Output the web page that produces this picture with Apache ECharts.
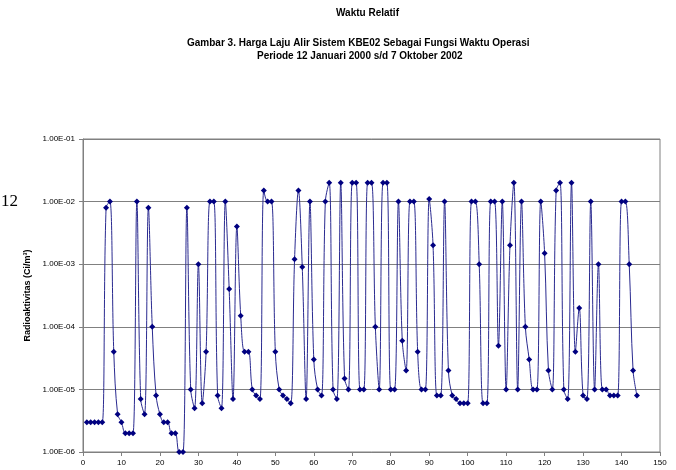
<!DOCTYPE html>
<html>
<head>
<meta charset="utf-8">
<script src="https://cdn.jsdelivr.net/npm/echarts@6/dist/echarts.min.js"></script>
<style>
html,body{margin:0;padding:0;background:#fff;}
#chart{width:676px;height:470px;}
</style>
</head>
<body>
<div id="chart"></div>
<script>
// Relative time step (x) is the sequence number of each measurement, 1..N
var radioactivity = [
  3e-6, 3e-6, 3e-6, 3e-6, 3e-6, 8e-3, 1e-2, 4e-5, 4e-6, 3e-6,
  2e-6, 2e-6, 2e-6, 1e-2, 7e-6, 4e-6, 8e-3, 1e-4, 8e-6, 4e-6,
  3e-6, 3e-6, 2e-6, 2e-6, 1e-6, 1e-6, 8e-3, 1e-5, 5e-6, 1e-3,
  6e-6, 4e-5, 1e-2, 1e-2, 8e-6, 5e-6, 1e-2, 4e-4, 7e-6, 4e-3,
  1.5e-4, 4e-5, 4e-5, 1e-5, 8e-6, 7e-6, 1.5e-2, 1e-2, 1e-2, 4e-5,
  1e-5, 8e-6, 7e-6, 6e-6, 1.2e-3, 1.5e-2, 9e-4, 7e-6, 1e-2, 3e-5,
  1e-5, 8e-6, 1e-2, 2e-2, 1e-5, 7e-6, 2e-2, 1.5e-5, 1e-5, 2e-2,
  2e-2, 1e-5, 1e-5, 2e-2, 2e-2, 1e-4, 1e-5, 2e-2, 2e-2, 1e-5,
  1e-5, 1e-2, 6e-5, 2e-5, 1e-2, 1e-2, 4e-5, 1e-5, 1e-5, 1.1e-2,
  2e-3, 8e-6, 8e-6, 1e-2, 2e-5, 8e-6, 7e-6, 6e-6, 6e-6, 6e-6,
  1e-2, 1e-2, 1e-3, 6e-6, 6e-6, 1e-2, 1e-2, 5e-5, 1e-2, 1e-5,
  2e-3, 2e-2, 1e-5, 1e-2, 1e-4, 3e-5, 1e-5, 1e-5, 1e-2, 1.5e-3,
  2e-5, 1e-5, 1.5e-2, 2e-2, 1e-5, 7e-6, 2e-2, 4e-5, 2e-4, 8e-6,
  7e-6, 1e-2, 1e-5, 1e-3, 1e-5, 1e-5, 8e-6, 8e-6, 8e-6, 1e-2,
  1e-2, 1e-3, 2e-5, 8e-6
];
var xTicks = [0, 10, 20, 30, 40, 50, 60, 70, 80, 90, 100, 110, 120, 130, 140, 150];
var yTicks = ["1.00E-06", "1.00E-05", "1.00E-04", "1.00E-03", "1.00E-02", "1.00E-01"];
var titleTop = "Waktu Relatif";
var titleLine1 = "Gambar 3. Harga Laju Alir Sistem KBE02 Sebagai Fungsi Waktu Operasi";
var titleLine2 = "Periode 12 Januari 2000 s/d 7 Oktober 2002";
var yAxisName = "Radioaktivitas (Ci/m\u00B3)";
var pageNumber = "12";

var points = radioactivity.map(function (v, i) { return [i + 1, v]; });

function fmtExp(v) {
  var e = Math.round(Math.log10(v));
  var idx = e + 6;
  return yTicks[idx] !== undefined ? yTicks[idx] : '';
}

var chart = echarts.init(document.getElementById('chart'), null, {renderer: 'canvas'});
chart.setOption({
  animation: false,
  backgroundColor: '#ffffff',
  textStyle: {fontFamily: 'Liberation Sans, Arial, sans-serif'},
  grid: {left: 83, right: 16, top: 139, bottom: 18, show: true, borderColor: '#808080', borderWidth: 1},
  graphic: [
    {type: 'text', top: 8, left: 336, style: {text: titleTop, font: 'bold 10px "Liberation Sans", Arial', fill: '#000'}},
    {type: 'text', top: 38, left: 187, style: {text: titleLine1, font: 'bold 10px "Liberation Sans", Arial', fill: '#000'}},
    {type: 'text', top: 51, left: 257, style: {text: titleLine2, font: 'bold 10px "Liberation Sans", Arial', fill: '#000'}},
    {type: 'text', top: 193, left: 1, style: {text: pageNumber, font: '17px "Liberation Serif", "Times New Roman", serif', fill: '#000'}}
  ],
  xAxis: {
    type: 'value', min: 0, max: 150, interval: 10,
    axisLine: {show: true, lineStyle: {color: '#808080', width: 1}},
    axisTick: {show: true, length: 4, lineStyle: {color: '#808080'}},
    axisLabel: {fontSize: 8, color: '#000', margin: 7, fontFamily: 'Liberation Sans, Arial',
      formatter: function (v) { return xTicks.indexOf(v) >= 0 ? String(v) : ''; }},
    splitLine: {show: false}
  },
  yAxis: {
    type: 'log', logBase: 10, min: 1e-6, max: 1e-1,
    name: yAxisName, nameLocation: 'middle', nameRotate: 90, nameGap: 46,
    nameTextStyle: {fontSize: 9, fontWeight: 'bold', color: '#000', fontFamily: 'Liberation Sans, Arial'},
    axisLine: {show: true, lineStyle: {color: '#808080', width: 1}},
    axisTick: {show: true, length: 4, lineStyle: {color: '#808080'}},
    axisLabel: {fontSize: 8, color: '#000', margin: 8, fontFamily: 'Liberation Sans, Arial', formatter: fmtExp},
    splitLine: {show: true, lineStyle: {color: '#808080', width: 1}}
  },
  series: [{
    type: 'line',
    data: points,
    smooth: 0.35,
    symbol: 'diamond',
    symbolSize: 6,
    showSymbol: true,
    clip: false,
    lineStyle: {color: '#2a2a90', width: 1},
    itemStyle: {color: '#000080'}
  }]
});
</script>
</body>
</html>
